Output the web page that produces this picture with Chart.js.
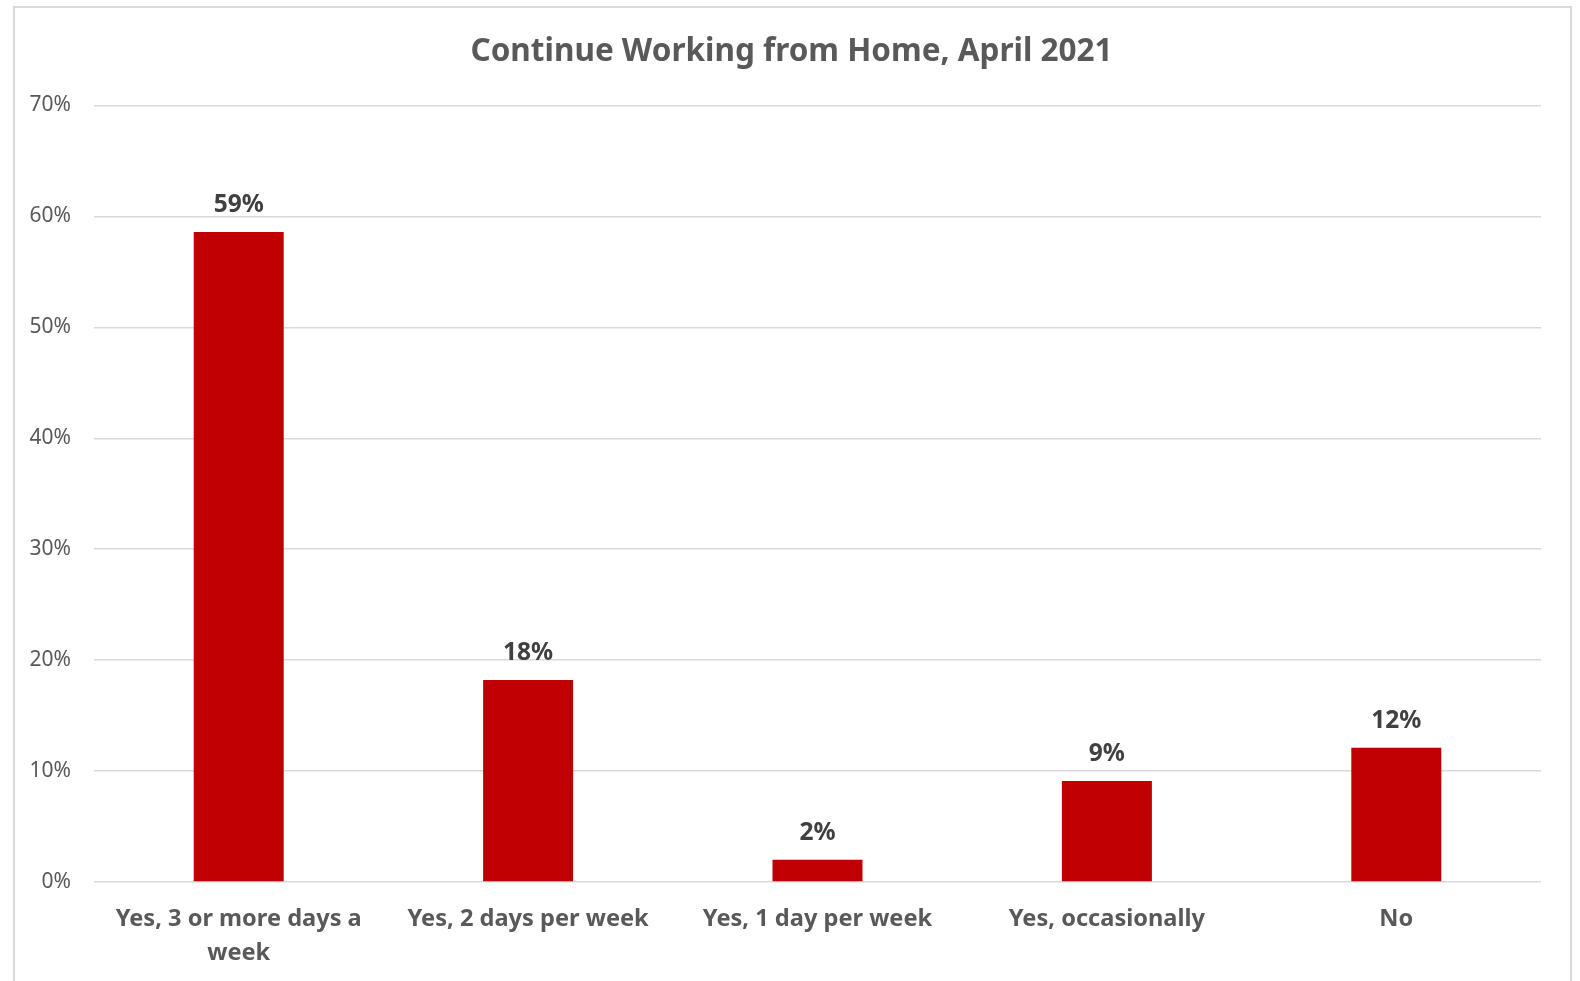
<!DOCTYPE html>
<html>
<head>
<meta charset="utf-8">
<script src="https://cdn.jsdelivr.net/npm/chart.js@4.4.1/dist/chart.umd.min.js"></script>
<style>
    html, body { margin: 0; padding: 0; width: 1580px; height: 981px; overflow: hidden; background: #fff; }
    #frame { position: absolute; left: 13px; top: 6px; width: 1555px; height: 1000px; border: 2px solid #d9d9d9; }
    #wrap { position: absolute; left: 0; top: 0; width: 1580px; height: 981px; }
</style>
</head>
<body>
<div id="frame"></div>
<div id="wrap"><canvas id="wfhChart" width="1580" height="981"></canvas></div>
<script>
// Data
const categories = [
    ['Yes, 3 or more days a', 'week'],
    'Yes, 2 days per week',
    'Yes, 1 day per week',
    'Yes, occasionally',
    'No'
];
const shares = [58.6, 18.2, 2.0, 9.1, 12.1];
const yTicks = [0, 10, 20, 30, 40, 50, 60, 70];
const chartTitle = 'Continue Working from Home, April 2021';

const FONT = "'Noto Sans', 'Open Sans', sans-serif";
const GREY = '#595959';

// Title centred on the frame rather than on the plot
const frameTitle = {
    id: 'frameTitle',
    afterDraw(chart) {
        const c = chart.ctx;
        c.save();
        c.font = 'bold 31.5px ' + FONT;
        c.fillStyle = GREY;
        c.textAlign = 'center';
        c.textBaseline = 'middle';
        c.fillText(chartTitle, 791.5, 52.4);
        c.restore();
    }
};

// Value labels above bars
const barLabels = {
    id: 'barLabels',
    afterDatasetsDraw(chart) {
        const c = chart.ctx;
        const meta = chart.getDatasetMeta(0);
        c.save();
        c.font = 'bold 24.5px ' + FONT;
        c.fillStyle = '#404040';
        c.textAlign = 'center';
        c.textBaseline = 'middle';
        meta.data.forEach((bar, i) => {
            c.fillText(Math.round(shares[i]) + '%', bar.x, bar.y - 27);
        });
        c.restore();
    }
};

new Chart(document.getElementById('wfhChart'), {
    type: 'bar',
    data: {
        labels: categories,
        datasets: [{
            data: shares,
            backgroundColor: '#c00000',
            borderWidth: 0,
            barPercentage: 0.311,
            categoryPercentage: 1
        }]
    },
    options: {
        responsive: false,
        animation: false,
        layout: { padding: { left: 0, right: 39, top: 105.5, bottom: 0 } },
        plugins: {
            legend: { display: false },
            tooltip: { enabled: false },
            title: { display: false }
        },
        scales: {
            y: {
                min: 0,
                max: 70,
                afterFit(s) { s.width = 94; },
                afterBuildTicks(s) { s.ticks = yTicks.map(v => ({ value: v })); },
                border: { display: false },
                grid: { color: '#d9d9d9', lineWidth: 1.5, drawTicks: false },
                ticks: {
                    color: GREY,
                    padding: 23,
                    font: { family: FONT, size: 21 },
                    callback: v => v + '%'
                }
            },
            x: {
                afterFit(s) { s.height = 99; },
                border: { display: false },
                grid: { display: false, drawTicks: false },
                ticks: {
                    color: GREY,
                    padding: 20,
                    maxRotation: 0,
                    autoSkip: false,
                    font: { family: FONT, size: 23.6, weight: 'bold', lineHeight: 1.44 }
                }
            }
        }
    },
    plugins: [barLabels, frameTitle]
});
</script>
</body>
</html>
